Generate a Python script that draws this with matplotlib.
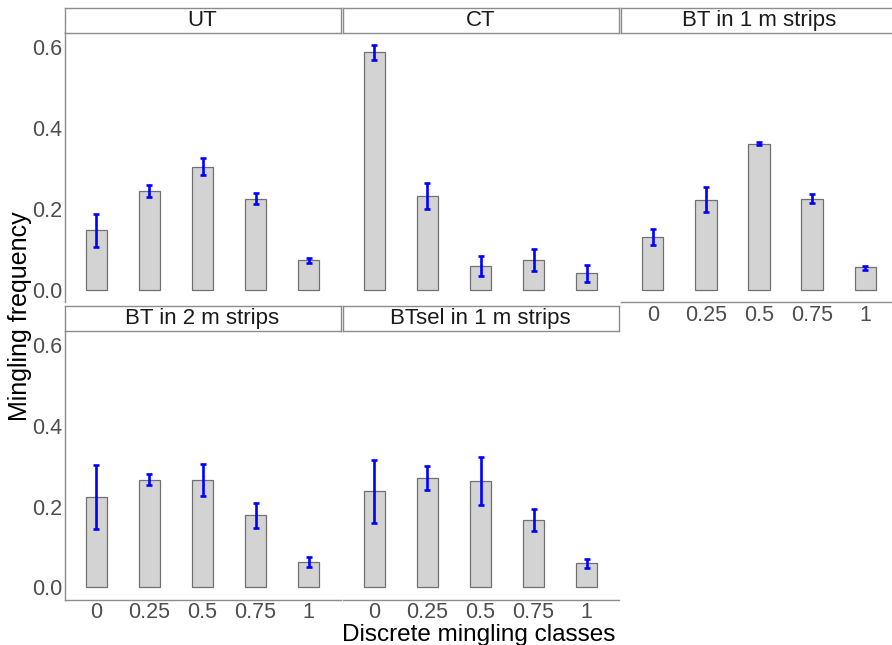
import matplotlib.pyplot as plt
import numpy as np

plt.rcParams['font.family'] = ['Liberation Sans', 'DejaVu Sans']

# mingling classes and the five treatments
classes = ["0", "0.25", "0.5", "0.75", "1"]
treatments = ["UT", "CT", "BT in 1 m strips", "BT in 2 m strips", "BTsel in 1 m strips"]

# mean frequency per class
freq_ut = [0.148, 0.245, 0.305, 0.226, 0.073]
freq_ct = [0.587, 0.233, 0.059, 0.074, 0.041]
freq_bt1 = [0.130, 0.223, 0.362, 0.226, 0.056]
freq_bt2 = [0.223, 0.267, 0.265, 0.178, 0.062]
freq_btsel = [0.238, 0.270, 0.263, 0.166, 0.059]

# lower / upper ends of the error bars
low_ut = [0.107, 0.230, 0.285, 0.213, 0.067]
up_ut = [0.187, 0.259, 0.325, 0.239, 0.079]
low_ct = [0.569, 0.201, 0.035, 0.048, 0.020]
up_ct = [0.606, 0.265, 0.084, 0.101, 0.063]
low_bt1 = [0.112, 0.192, 0.358, 0.216, 0.049]
up_bt1 = [0.150, 0.254, 0.365, 0.237, 0.060]
low_bt2 = [0.145, 0.253, 0.225, 0.148, 0.050]
up_bt2 = [0.302, 0.281, 0.305, 0.209, 0.074]
low_btsel = [0.160, 0.240, 0.203, 0.140, 0.047]
up_btsel = [0.316, 0.300, 0.324, 0.193, 0.071]

freqs = [freq_ut, freq_ct, freq_bt1, freq_bt2, freq_btsel]
lows = [low_ut, low_ct, low_bt1, low_bt2, low_btsel]
ups = [up_ut, up_ct, up_bt1, up_bt2, up_btsel]

W, H = 892, 645
AXIS_GREY = "#8c8c8c"
TICK_GREY = "#4d4d4d"


def px_box(x0, y0, x1, y1):
    """ pixel box (from top left) -> figure fraction rect """
    return [x0 / W, 1 - y1 / H, (x1 - x0) / W, (y1 - y0) / H]


def main():
    fig = plt.figure(figsize=(W / 100, H / 100), dpi=100)

    cols = [(64.5, 340.5), (342.5, 618.5), (621, 897)]
    rows = [(32.5, 302.3), (330.5, 599.5)]
    strips = [(8, 32.5), (306, 330.5)]

    ymax = max(max(u) for u in ups)
    pad = 0.05 * ymax
    x = np.arange(1, len(classes) + 1)

    for k, name in enumerate(treatments):
        r, c = divmod(k, 3)
        x0, x1 = cols[c]
        y0, y1 = rows[r]
        ax = fig.add_axes(px_box(x0, y0, x1, y1))

        f = np.array(freqs[k])
        err = np.array([f - np.array(lows[k]), np.array(ups[k]) - f])
        ax.bar(x, f, width=0.4, color="#d3d3d3", edgecolor="#707070",
               linewidth=0.9, zorder=2)
        ax.errorbar(x, f, yerr=err, fmt="none", ecolor="blue",
                    elinewidth=1.9, capsize=2.4, capthick=1.9, zorder=3)

        ax.set_xlim(0.4, 5.6)
        ax.set_ylim(-pad, ymax + pad)
        for s in ax.spines.values():
            s.set_visible(False)

        left = c == 0
        bottom = (r == 1) or (k == 2)
        ax.tick_params(axis="y", length=0, colors=TICK_GREY, labelsize=15.5, pad=1.5)
        ax.tick_params(axis="x", length=0, colors=TICK_GREY, labelsize=15.5, pad=2)
        if left:
            ax.spines["left"].set_visible(True)
            ax.spines["left"].set_color(AXIS_GREY)
            ax.spines["left"].set_linewidth(1.0)
            ax.set_yticks([0.0, 0.2, 0.4, 0.6])
            ax.set_yticklabels(["0.0", "0.2", "0.4", "0.6"])
        else:
            ax.set_yticks([])
        if bottom:
            ax.spines["bottom"].set_visible(True)
            ax.spines["bottom"].set_color(AXIS_GREY)
            ax.spines["bottom"].set_linewidth(1.0)
            ax.set_xticks(x)
            ax.set_xticklabels(classes)
        else:
            ax.set_xticks([])

        # facet strip
        sy0, sy1 = strips[r]
        sax = fig.add_axes(px_box(x0, sy0, x1, sy1))
        sax.set_xticks([])
        sax.set_yticks([])
        for s in sax.spines.values():
            s.set_color(AXIS_GREY)
            s.set_linewidth(1.0)
        sax.text(0.5, 0.47, name, ha="center", va="center", fontsize=16,
                 color="#1a1a1a", transform=sax.transAxes)

    fig.text(20 / W, 1 - 316 / H, "Mingling frequency", rotation=90,
             ha="center", va="center", fontsize=18)
    fig.text(479 / W, 1 - 641 / H, "Discrete mingling classes",
             ha="center", va="baseline", fontsize=17.5)

    fig.savefig("out.png", dpi=100, facecolor="white")


if __name__ == "__main__":
    main()
